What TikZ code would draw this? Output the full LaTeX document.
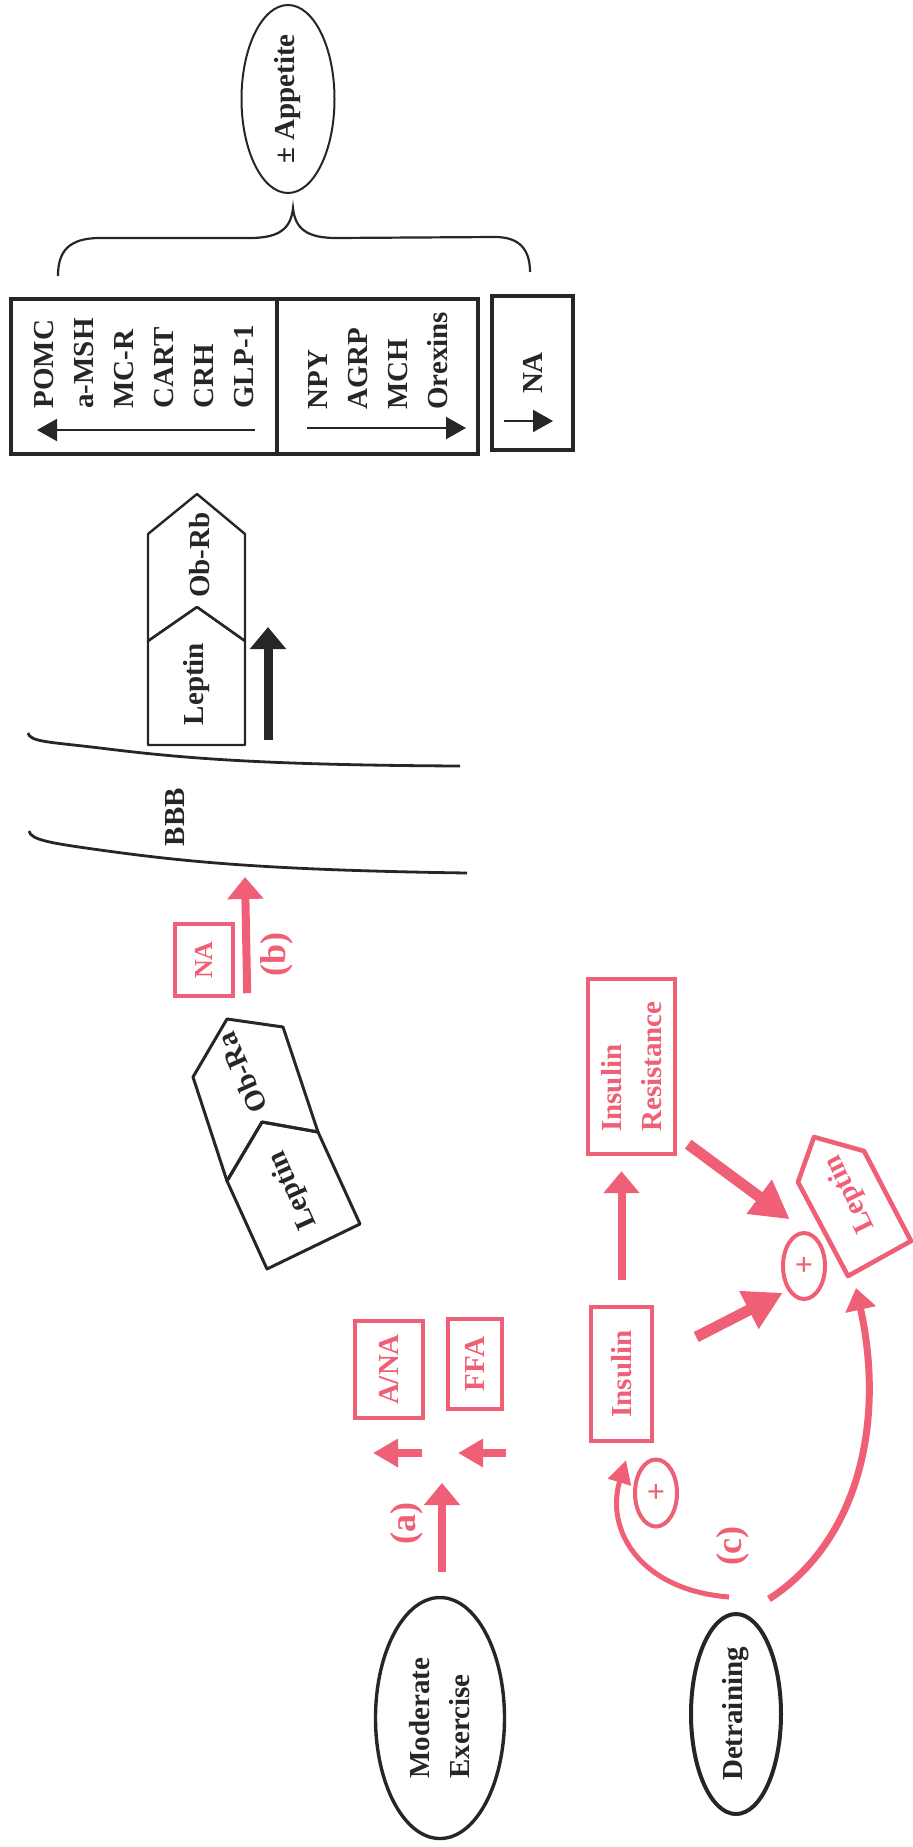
\documentclass[tikz,border=0pt]{standalone}
\usepackage{fontspec}
\setmainfont{Liberation Serif}
\usetikzlibrary{arrows.meta,shapes.geometric}
\definecolor{ink}{RGB}{38,38,38}
\definecolor{rose}{RGB}{239,95,117}
\newcommand{\lblfont}{\fontsize{14.5}{20}\selectfont\bfseries}
\newcommand{\tagfont}{\fontsize{18}{18}\selectfont\bfseries}
\newcommand{\nafont}{\fontsize{13}{13}\selectfont\bfseries}
\newcommand{\plusfont}{\fontsize{16}{16}\selectfont\bfseries}

\begin{document}
\begin{tikzpicture}[x=0.5pt,y=-0.5pt,
  lbl/.style={font=\lblfont, text=ink, inner sep=0pt},
  redlbl/.style={font=\lblfont, text=rose, inner sep=0pt},
  vert/.style={rotate=90},
  blkbox/.style={draw=ink, line width=2.4pt, rotate=90, inner sep=0pt, font=\lblfont, text=ink},
  redbox/.style={draw=rose, line width=2.2pt, rotate=90, inner sep=0pt, font=\lblfont, text=rose, align=left},
  oval/.style={ellipse, draw=ink, rotate=90, inner sep=0pt, font=\lblfont, text=ink, align=left},
  plusoval/.style={ellipse, draw=rose, line width=2pt, text=rose, minimum width=21pt, minimum height=33pt, inner sep=0pt, font=\plusfont},
  recep/.style={draw=ink, line width=1.2pt, line join=round},
  redrecep/.style={draw=rose, line width=2.3pt, line join=round},
  bbbline/.style={draw=ink, line width=1.4pt},
  brace/.style={draw=ink, line width=1.1pt},
  boxarr/.style={draw=ink, line width=1.1pt, -{Triangle[length=10pt,width=11pt]}},
  blkarr/.style={draw=ink, line width=4.5pt, -{Triangle[length=11pt,width=17.5pt]}},
  redarr/.style={draw=rose, line width=4pt, -{Triangle[length=11pt,width=17.5pt]}},
  smallarr/.style={draw=rose, line width=4pt, -{Triangle[length=12.5pt,width=13.5pt]}},
  fatarr/.style={draw=rose, line width=5.5pt, -{Triangle[length=19pt,width=20pt]}},
  curvearr/.style={draw=rose, line width=2.5pt, -{Triangle[length=11.5pt,width=11.5pt]}},
  bigcurve/.style={draw=rose, line width=3.5pt, -{Triangle[length=11pt,width=15pt]}}]
\useasboundingbox (0,0) rectangle (912,1847);

% appetite and the hypothalamic signals
\node[oval, line width=1pt, minimum width=94pt, minimum height=46.5pt] (appetite) at (288,99) {± Appetite};
\draw[brace] (58,276) .. controls (58,252) and (68,238) .. (100,238) -- (250,238)
  .. controls (280,238) and (291,228) .. (293,208) .. controls (295,228) and (306,238) .. (336,238)
  -- (495,237) .. controls (520,237) and (530,250) .. (530,272);

\node[blkbox, minimum width=77.5pt, minimum height=133pt] (pomcbox) at (144,376.5) {};
\node[blkbox, minimum width=77.5pt, minimum height=100.5pt] (npybox) at (377.5,376.5) {};
\node[blkbox, minimum width=77pt, minimum height=40.5pt] (nabox) at (532.5,373) {NA};
\node[lbl, vert, anchor=west, align=left] (pomctxt) at (144,409) {POMC\\a-MSH\\MC-R\\CART\\CRH\\GLP-1};
\node[lbl, vert, anchor=west, align=left] (npytxt) at (378,410) {NPY\\AGRP\\MCH\\Orexins};
\draw[boxarr] (255,430) -- (37,430);
\draw[boxarr] (307,428) -- (466,428);
\draw[boxarr] (504,421) -- (553,421);

% leptin on Ob-Rb
\draw[recep] (148,641) -- (148,534) -- (197,494) -- (245,534) -- (245,641) -- (197,607) -- cycle;
\draw[recep] (148,641) -- (197,607) -- (245,641) -- (245,745) -- (148,745) -- cycle;
\node[lbl, vert] (obrb) at (200,555) {Ob-Rb};
\node[lbl, vert] (leptinup) at (197,684) {Leptin};
\coordinate (upfrom) at (268,740);
\coordinate (upto) at (268,627);
\draw[blkarr] (upfrom) -- (upto);

% blood brain barrier
\draw[bbbline] (28,733) .. controls (30,742) and (50,742) .. (100,748) .. controls (180,758) and (260,765) .. (460,766);
\draw[bbbline] (29,831) .. controls (31,840) and (50,843) .. (100,850) .. controls (180,861) and (260,870) .. (467,873);
\node[lbl, vert] (bbb) at (175,817) {BBB};

% (b)
\node[redbox, font=\nafont, minimum width=36pt, minimum height=29pt] (nared) at (204,960) {NA};
\node[redlbl, vert, font=\tagfont] (blabel) at (277,954) {(b)};
\coordinate (bbbin) at (245,877);
\draw[redarr] ([xshift=6pt,yshift=2.5pt]nared.south west) -- (bbbin);

% leptin on Ob-Ra
\draw[recep, line width=1.5pt] (227,1181) -- (193,1077) -- (227,1019) -- (283,1027) -- (318,1132) -- (262,1122) -- cycle;
\draw[recep, line width=1.5pt] (227,1181) -- (262,1122) -- (318,1132) -- (360,1224) -- (267,1269) -- cycle;
\node[lbl, rotate=114] (obra) at (242,1073) {Ob-Ra};
\node[lbl, rotate=114] (leptintilt) at (293,1190) {Leptin};

% (a)
\node[oval, line width=1.7pt, minimum width=120.5pt, minimum height=64.5pt] (modex) at (440,1718) {Moderate\\Exercise};
\node[redbox, minimum width=48.5pt, minimum height=34pt] (ana) at (389,1369.5) {A/NA};
\node[redbox, minimum width=45pt, minimum height=27pt] (ffa) at (475,1364) {FFA};
\draw[smallarr] (422,1453) -- (373,1453);
\draw[smallarr] (506,1453) -- (458,1453);
\node[redlbl, vert, font=\tagfont] (alabel) at (407,1523) {(a)};
\coordinate (atip) at (442,1483);
\draw[redarr] ([xshift=1pt,yshift=12pt]modex.east) -- (atip);

% (c)
\node[oval, line width=2pt, minimum width=100pt, minimum height=45pt] (detr) at (736,1714) {Detraining};
\node[redbox, minimum width=67pt, minimum height=30.5pt] (ins) at (621.5,1374) {Insulin};
\node[redbox, minimum width=87.5pt, minimum height=43.5pt] (ir) at (631.5,1066.5) {Insulin\\Resistance};
\node[plusoval] (plus1) at (804,1266) {+};
\node[plusoval, minimum height=33.5pt] (plus2) at (656,1493) {+};
\draw[redrecep] (848,1276) -- (911,1241) -- (864,1151) -- (814,1137) -- (798,1182) -- cycle;
\node[redlbl, rotate=116] (leptinred) at (850,1194) {Leptin};
\coordinate (lepbase) at (856,1288);
\node[redlbl, vert, font=\tagfont] (clabel) at (733,1546) {(c)};

\draw[redarr, shorten <=12.5pt, shorten >=7.5pt] (ins.east) -- (ins.east |- ir.west);
\draw[fatarr] ([xshift=5.5pt,yshift=6pt]ir.south west) -- ([xshift=1pt,yshift=11pt]plus1.north west);
\draw[fatarr] ([xshift=21pt,yshift=18.5pt]ins.south) -- ([xshift=-2.5pt,yshift=-1pt]plus1.south west);
\draw[curvearr] ([xshift=-3.5pt,yshift=7.5pt]detr.east) .. controls (640,1590) and (605,1530) .. ([xshift=2.25pt,yshift=-8.5pt]ins.west);
\draw[bigcurve] ([xshift=16.5pt,yshift=6.5pt]detr.east) .. controls (860,1540) and (885,1420) .. (lepbase);
\end{tikzpicture}
\end{document}
